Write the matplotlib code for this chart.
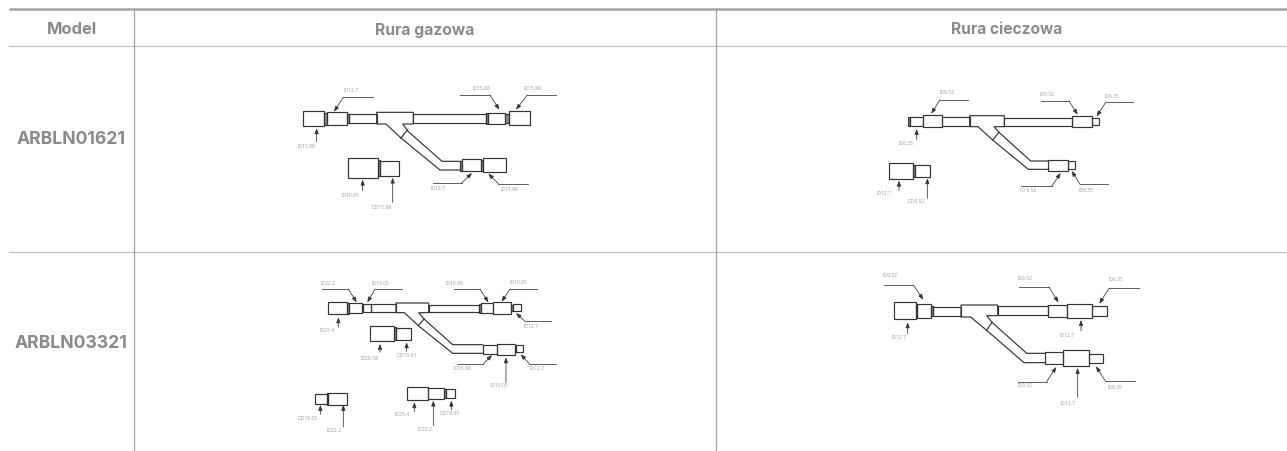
import matplotlib
matplotlib.use("Agg")
import matplotlib.pyplot as plt

plt.rcParams['font.family'] = ['Open Sans', 'DejaVu Sans']

W, H = 1287, 452
columns = ["Model", "Rura gazowa", "Rura cieczowa"]
models = ["ARBLN01621", "ARBLN03321"]

# Each diagram: origin, then shapes in a 3x-scaled local drawing space
A = dict(
    origin=(280, 70),
    rects=[(68,127,133,172),(133,131,140,168),(140,129,201,167),(201,134,206,162),(206,136,290,162),
           (400,136,618,162),(618,132,624,165),(624,132,676,165),(676,135,686,162),(686,127,751,168),
           (540,275,546,305),(546,271,604,307),(604,273,610,305),(610,268,677,310),
           (205,268,293,326),(293,272,301,322),(301,276,358,320)],
    polys=[[(363,207),(318,165),(290,165),(290,130),(400,130),(400,165),(368,165),(382,183)],
           [(363,207),(382,183)],
           [(382,185),(486,277),(540,277)],[(363,207),(480,303),(540,303)]],
    arrows=[[(110,218),(110,178)],[(280,85),(190,85),(162,128)],[(540,78),(630,78),(658,122)],
            [(828,78),(742,78),(708,122)],[(458,342),(545,342),(576,312)],[(743,344),(655,344),(625,314)],
            [(248,365),(248,332)],[(338,400),(338,326)]],
    labels=[("ID12.7",214,60),("ID15.88",603,54),("ID15.88",758,54),("ID15.88",80,231),
            ("ID19.05",210,376),("OD15.88",307,414),("ID12.7",474,357),("ID15.88",687,360)],
)
B = dict(
    origin=(280, 270),
    rects=[(144,100,200,136),(200,102,206,134),(206,102,246,133),(246,104,250,130),(250,105,274,129),(274,106,348,129),
           (446,107,598,129),(598,104,604,131),(604,103,640,132),(640,100,694,134),(694,107,698,125),(698,105,722,127),
           (608,227,650,254),(652,224,704,258),(704,230,708,250),(708,229,730,250),
           (270,170,342,217),(342,175,348,213),(348,177,394,214),
           (106,376,140,404),(140,373,145,408),(145,371,200,408),
           (380,353,444,394),(444,356,492,390),(492,360,497,388),(497,360,526,387)],
    polys=[[(415,170),(373,131),(348,131),(348,102),(446,102),(446,131),(416,131),(432,150)],
           [(415,170),(432,150)],
           [(432,150),(518,227),(608,227)],[(415,170),(518,253),(608,253)]],
    arrows=[[(175,175),(175,145)],[(126,60),(205,60),(230,100)],[(365,60),(285,60),(262,100)],
            [(522,60),(600,60),(625,100)],[(770,60),(690,60),(665,98)],[(812,157),(735,157),(708,132)],
            [(532,285),(610,285),(636,258)],[(827,284),(748,284),(722,256)],[(678,340),(678,265)],
            [(300,250),(300,225)],[(380,247),(380,220)],[(121,436),(121,408)],[(190,474),(190,408)],
            [(403,428),(403,400)],[(460,470),(460,395)],[(514,423),(514,395)]],
    labels=[("ID22.2",145,42),("ID19.05",300,42),("ID15.88",523,42),("ID19.05",714,39),("ID25.4",142,183),
            ("ID28.58",267,265),("OD19.05",381,258),("ID12.7",754,169),("ID15.88",547,297),("ID12.7",770,297),
            ("ID19.05",658,348),("OD19.05",84,447),("ID22.2",162,483),("ID25.4",367,435),("ID22.2",434,478),
            ("OD19.05",511,432)],
)
C = dict(
    origin=(860, 80),
    rects=[(145,113,150,142),(150,113,190,142),(190,109,247,145),(247,115,330,142),
           (433,116,636,141),(636,112,696,143),(696,116,718,139),
           (564,244,623,275),(625,247,644,271),
           (88,252,160,299),(160,258,165,294),(165,259,211,294)],
    polys=[[(398,183),(354,143),(329,143),(329,110),(433,110),(433,143),(402,143),(417,160)],
           [(398,183),(417,160)],
           [(417,160),(512,246),(564,246)],[(398,183),(505,271),(564,271)]],
    arrows=[[(170,182),(170,150)],[(325,62),(240,62),(214,104)],[(543,66),(627,66),(653,107)],
            [(820,70),(737,70),(710,112)],[(483,322),(575,322),(602,282)],[(744,316),(660,316),(635,276)],
            [(117,334),(117,305)],[(202,358),(202,298)]],
    labels=[("ID9.52",262,39),("ID9.52",560,42),("ID6.35",757,48),("ID6.35",138,190),("ID12.7",71,342),
            ("OD9.52",169,366),("ID 9.52",505,333),("ID6.35",679,331)],
)
D = dict(
    origin=(860, 260),
    rects=[(102,130,168,180),(168,134,172,176),(172,134,214,176),(214,140,218,170),(218,143,303,170),
           (413,142,565,168),(565,137,620,175),(620,134,695,178),(695,142,741,170),
           (556,280,610,316),(610,274,686,320),(686,284,729,312)],
    polys=[[(380,214),(332,174),(303,174),(303,138),(413,138),(413,170),(380,170),(396,190)],
           [(380,214),(396,190)],
           [(396,190),(500,283),(556,283)],[(380,214),(492,311),(556,311)]],
    arrows=[[(143,224),(143,190)],[(72,78),(160,78),(190,122)],[(478,84),(567,84),(595,130)],
            [(836,88),(747,88),(718,134)],[(663,216),(663,183)],[(475,368),(560,368),(589,324)],
            [(826,366),(736,366),(708,322)],[(653,415),(653,327)]],
    labels=[("ID9.52",91,48),("ID9.52",495,57),("ID6.35",768,60),("ID12.7",116,234),("ID12.7",621,226),
            ("ID9.52",496,378),("ID6.35",764,382),("ID12.7",624,432)],
)
diagrams = [A, B, C, D]

HEAD = "#8a8a8a"
RULE = "#a3a3a3"
INK = "#333333"
LABEL = "#9a9a9a"

fig = plt.figure(figsize=(W / 100, H / 100), dpi=100)
ax = fig.add_axes([0, 0, 1, 1])
ax.set_xlim(0, W)
ax.set_ylim(H, 0)
ax.axis("off")

# table rules
ax.plot([9, W], [10, 10], color=RULE, lw=1.8, solid_capstyle="butt")
ax.plot([9, W], [46.5, 46.5], color="#bdbdbd", lw=0.8)
ax.plot([9, W], [252.5, 252.5], color="#bdbdbd", lw=0.8)
for x in (134, 716):
    ax.plot([x, x], [10, H], color=RULE, lw=0.9)

# headers and row titles
for name, x, fs in zip(columns, (72, 425, 1007), (11.9, 11.3, 11.2)):
    ax.text(x, 30, name, ha="center", va="center", fontsize=fs, fontweight="bold", color=HEAD, family="Inter")
for name, y in zip(models, (139.5, 343.5)):
    ax.text(71, y, name, ha="center", va="center", fontsize=12.7, fontweight="bold", color=HEAD, family="Inter")

def draw(d):
    ox, oy = d["origin"]
    px = lambda p: (ox + p[0] / 3, oy + p[1] / 3)
    for x1, y1, x2, y2 in d["rects"]:
        a, b = px((x1, y1)), px((x2, y2))
        thin = x2 - x1 <= 10
        ax.add_patch(plt.Rectangle(a, b[0] - a[0], b[1] - a[1], fill=thin, fc="#8c8c8c", ec=INK, lw=0.85))
    for pts in d["polys"]:
        q = [px(p) for p in pts]
        ax.plot([p[0] for p in q], [p[1] for p in q], color=INK, lw=0.85, solid_joinstyle="miter")
    for pts in d["arrows"]:
        q = [px(p) for p in pts]
        if len(q) > 2:
            ax.plot([p[0] for p in q[:-1]], [p[1] for p in q[:-1]], color=INK, lw=0.55)
        ax.annotate("", xy=q[-1], xytext=q[-2],
                    arrowprops=dict(arrowstyle="-|>,head_length=0.45,head_width=0.17", color=INK,
                                    lw=0.55, shrinkA=0, shrinkB=0, mutation_scale=7))
    for s, x, y in d["labels"]:
        ax.text(*px((x, y)), s, ha="center", va="center", fontsize=3.6, color=LABEL)

for d in diagrams:
    draw(d)

fig.savefig("out.png", dpi=100)
